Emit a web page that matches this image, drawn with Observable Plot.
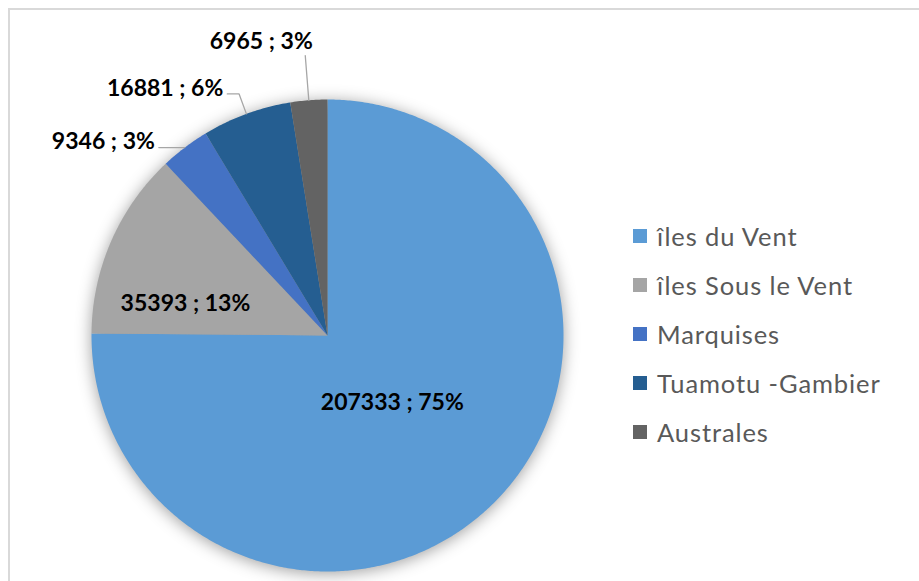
<!DOCTYPE html>
<html>
<head>
<meta charset="utf-8">
<script src="https://cdn.jsdelivr.net/npm/d3@7"></script>
<script src="https://cdn.jsdelivr.net/npm/@observablehq/plot@0.6"></script>
<style>
  html, body { margin: 0; padding: 0; background: #fff; }
  #wrap { position: relative; width: 919px; height: 581px; overflow: hidden; }
  #frame { position: absolute; left: 8px; top: 8px; width: 930px; height: 600px; border: 2px solid #d9d9d9; box-sizing: border-box; }
  #chart { position: absolute; left: 0; top: 0; }
  #legend { position: absolute; left: 633px; top: 212px; font-family: Lato, "Open Sans", sans-serif; font-size: 25.5px; letter-spacing: 0.9px; color: #595959; }
  #legend .row { height: 48.8px; display: flex; align-items: center; white-space: nowrap; }
  #legend .sw { width: 14px; height: 14px; margin-right: 10px; flex: none; }
</style>
</head>
<body>
<div id="wrap">
  <div id="frame"></div>
  <div id="chart"></div>
  <div id="legend"></div>
</div>
<script>
// ---- data ----
const regions = ["îles du Vent", "îles Sous le Vent", "Marquises", "Tuamotu -Gambier", "Australes"];
const populations = [207333, 35393, 9346, 16881, 6965];
const percents = ["75%", "13%", "3%", "6%", "3%"];
const colors = ["#5B9BD5", "#A5A5A5", "#4472C4", "#255E91", "#636363"];

// ---- layout (label placement, not data) ----
const labelLayout = [
  {inside: true, r: 0.39, dx: 0, dy: 2},
  {inside: true, r: 0.62, dx: -8, dy: 27},
  {inside: false, k: 1.0, h: -0.11, anchor: "end", dx: -4, dy: -6},
  {inside: false, k: 1.09, h: -0.05, anchor: "end", dx: -4, dy: -5},
  {inside: false, k: 1.19, h: 0, anchor: "middle", dx: -44, dy: -14}
];

const arcs = d3.pie().sort(null).value(d => d)(populations);
const pt = (a, r) => ({x: r * Math.sin(a), y: r * Math.cos(a)});

// slice outlines (computed from the pie angles)
const slicePts = [];
arcs.forEach((arc, i) => {
  const n = Math.max(4, Math.ceil((arc.endAngle - arc.startAngle) / (Math.PI / 360)));
  slicePts.push({region: regions[i], ...pt(0, 0)});
  for (let j = 0; j <= n; j++) {
    const a = arc.startAngle + (arc.endAngle - arc.startAngle) * j / n;
    slicePts.push({region: regions[i], ...pt(a, 1)});
  }
});

const labels = [];
const leaders = [];
arcs.forEach((arc, i) => {
  const mid = (arc.startAngle + arc.endAngle) / 2;
  const L = labelLayout[i];
  const text = `${populations[i]} ; ${percents[i]}`;
  if (L.inside) {
    const p = pt(mid, L.r);
    labels.push({...p, text, anchor: "middle", dx: L.dx, dy: L.dy});
  } else {
    const e = pt(mid, 1);
    const el = pt(mid, L.k);
    const end = {x: el.x + L.h, y: el.y};
    leaders.push({id: i, ...e}, {id: i, ...el}, {id: i, ...end});
    labels.push({...end, text, anchor: L.anchor, dx: L.dx, dy: L.dy});
  }
});

const plot = Plot.plot({
  width: 919,
  height: 581,
  margin: 0,
  x: {domain: [-1, 1], range: [91, 563], axis: null},
  y: {domain: [-1, 1], range: [571, 99], axis: null},
  color: {domain: regions, range: colors},
  style: {background: "transparent", overflow: "visible"},
  marks: [
    Plot.line(slicePts, {x: "x", y: "y", z: "region", fill: "region", stroke: "none", curve: "linear-closed"}),
    Plot.line(leaders, {x: "x", y: "y", z: "id", stroke: "#a6a6a6", strokeWidth: 1.3}),
    ...labels.map(l => Plot.text([l], {
      x: "x", y: "y", text: "text", textAnchor: l.anchor,
      dx: l.dx, dy: l.dy,
      fontFamily: "Lato, 'Open Sans', sans-serif", fontWeight: "bold", fontSize: 23, fill: "#000"
    }))
  ]
});
document.getElementById("chart").appendChild(plot);
d3.select(plot).select('g[aria-label="line"]').style("filter", "drop-shadow(0px 2px 8px rgba(0,0,0,0.38))");

// legend
const leg = d3.select("#legend");
regions.forEach((r, i) => {
  const row = leg.append("div").attr("class", "row");
  row.append("div").attr("class", "sw").style("background", colors[i]);
  row.append("span").text(r);
});
</script>
</body>
</html>
